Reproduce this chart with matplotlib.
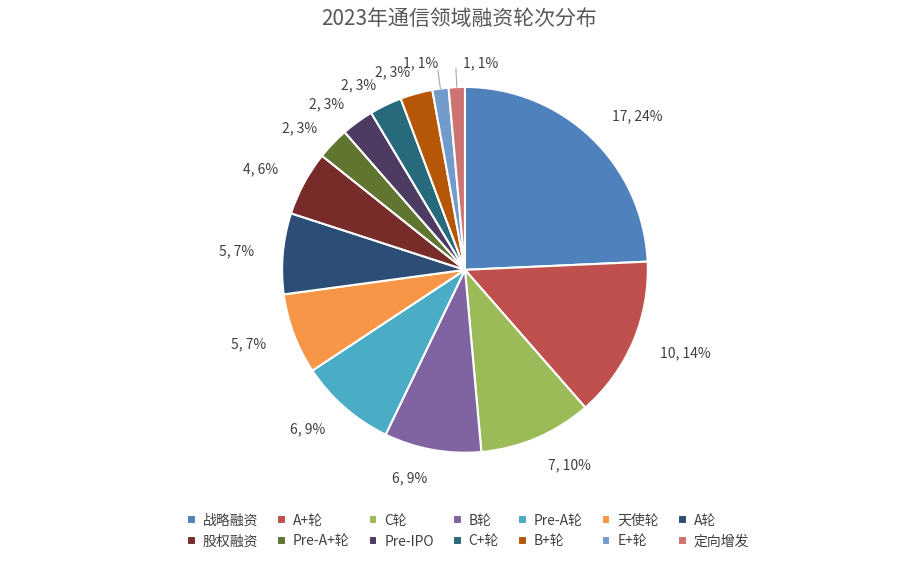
import glob
import numpy as np
import matplotlib.pyplot as plt
from matplotlib import font_manager

# 找中文字体
cjk = [f for f in font_manager.findSystemFonts() if "CJK" in f or "Noto Sans SC" in f]
if cjk:
    font_manager.fontManager.addfont(sorted(cjk)[0])
    cjk_name = font_manager.FontProperties(fname=sorted(cjk)[0]).get_name()
else:
    cjk_name = "Noto Sans CJK SC"
plt.rcParams["font.family"] = [cjk_name, "DejaVu Sans"]

# 数据
categories = ["战略融资", "A+轮", "C轮", "B轮", "Pre-A轮", "天使轮", "A轮",
              "股权融资", "Pre-A+轮", "Pre-IPO", "C+轮", "B+轮", "E+轮", "定向增发"]
counts = [17, 10, 7, 6, 6, 5, 5, 4, 2, 2, 2, 2, 1, 1]
colors = ["#4F81BD", "#C0504D", "#9BBB59", "#8064A2", "#4BACC6", "#F79646", "#2C4D75",
          "#772C2A", "#5F7530", "#4D3B62", "#276A7C", "#B65708", "#729ACA", "#CD7371"]

fig = plt.figure(figsize=(9.18, 5.61), dpi=100)
ax = fig.add_axes([0.307, 0.193, 0.399, 0.652])
wedges, _ = ax.pie(counts, colors=colors, startangle=90, counterclock=False,
                   wedgeprops=dict(edgecolor="white", linewidth=1.5))
ax.set_aspect("equal")

total = sum(counts)
for i, (w, c) in enumerate(zip(wedges, counts)):
    ang = np.deg2rad((w.theta1 + w.theta2) / 2)
    r = 1.16 if c > 2 else 1.12
    x, y = r * np.cos(ang), r * np.sin(ang)
    ha = "left" if x > 0.05 else ("right" if x < -0.05 else "center")
    if c == 1:
        ha = "left" if i == 13 else "right"
        ax.plot([1.0 * np.cos(ang), 1.1 * np.cos(ang)],
                [1.0 * np.sin(ang), 1.1 * np.sin(ang)], color="#A6A6A6", lw=0.8,
                clip_on=False)
        x, y = 1.1 * np.cos(ang), 1.13
        x += 0.04 if i == 13 else -0.0
    ax.text(x, y, f"{c}, {round(100 * c / total)}%", ha=ha, va="center",
            fontsize=10, color="#404040")
ax.set_xlim(-1, 1)
ax.set_ylim(-1, 1)

fig.suptitle("2023年通信领域融资轮次分布", y=0.985, fontsize=15, color="#595959")
# 图例按行排列
order = [j * 7 + k for k in range(7) for j in range(2)]
fig.legend([wedges[i] for i in order], [categories[i] for i in order], ncol=7,
           loc="lower center", bbox_to_anchor=(0.51, 0.0),
           frameon=False, fontsize=10, handlelength=0.6, handleheight=0.6,
           columnspacing=1.4, handletextpad=0.5, labelcolor="#404040")
fig.savefig("out.png", dpi=100)
